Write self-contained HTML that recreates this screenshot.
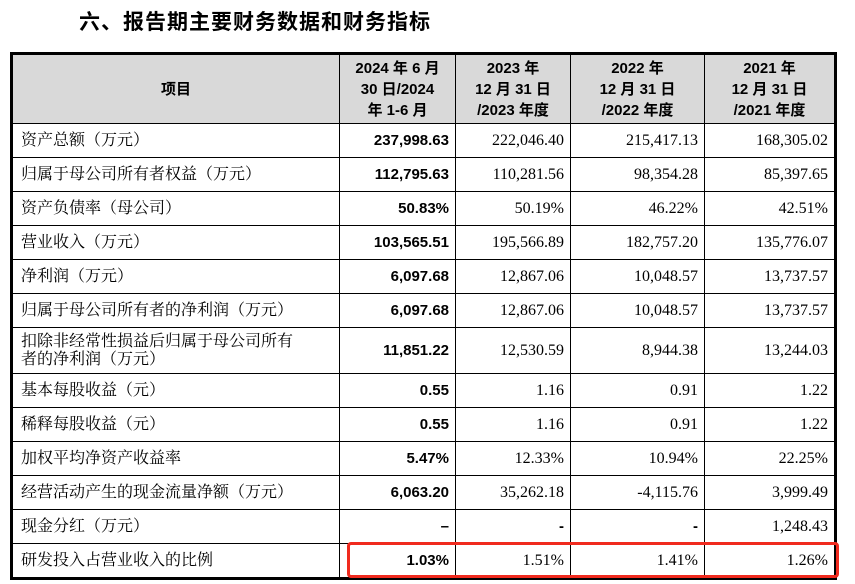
<!DOCTYPE html>
<html><head><meta charset="utf-8"><style>
body{margin:0;width:855px;height:584px;background:#fff;position:relative;overflow:hidden;font-family:"Liberation Serif","Noto Serif CJK SC",serif;color:#000}
#title{position:absolute;left:79px;top:6px;font:bold 21px "Liberation Sans","Noto Sans CJK SC",sans-serif;letter-spacing:1px}
table{position:absolute;left:10px;top:52px;border-collapse:collapse;border:3px solid #000}
td{border:1px solid #000;font-size:16px;padding:0 6px;height:33px;text-align:right;line-height:18px}
td.l{text-align:left;font-family:"Liberation Serif","Noto Serif CJK SC",serif;padding-left:8px;font-size:16px}
td.b{font-family:"Liberation Sans","Noto Sans CJK SC",sans-serif;font-weight:bold;font-size:15px}
tr.h td{background:#d9d9d9;height:68px;text-align:center;font-weight:bold;font-family:"Liberation Sans","Noto Sans CJK SC",sans-serif;line-height:21px;font-size:15px}
#red{position:absolute;left:347px;top:542px;width:486px;height:30px;border:3px solid #f02a1e;border-radius:4px}
</style></head><body>
<div id="title">六、报告期主要财务数据和财务指标</div>
<table>
<colgroup><col style="width:328px"><col style="width:116px"><col style="width:115px"><col style="width:134px"><col style="width:131px"></colgroup>
<tr class="h"><td>项目</td><td>2024 年 6 月<br>30 日/2024<br>年 1-6 月</td><td>2023 年<br>12 月 31 日<br>/2023 年度</td><td>2022 年<br>12 月 31 日<br>/2022 年度</td><td>2021 年<br>12 月 31 日<br>/2021 年度</td></tr>
<tr><td class="l">资产总额（万元）</td><td class="b">237,998.63</td><td>222,046.40</td><td>215,417.13</td><td>168,305.02</td></tr>
<tr><td class="l">归属于母公司所有者权益（万元）</td><td class="b">112,795.63</td><td>110,281.56</td><td>98,354.28</td><td>85,397.65</td></tr>
<tr><td class="l">资产负债率（母公司）</td><td class="b">50.83%</td><td>50.19%</td><td>46.22%</td><td>42.51%</td></tr>
<tr><td class="l">营业收入（万元）</td><td class="b">103,565.51</td><td>195,566.89</td><td>182,757.20</td><td>135,776.07</td></tr>
<tr><td class="l">净利润（万元）</td><td class="b">6,097.68</td><td>12,867.06</td><td>10,048.57</td><td>13,737.57</td></tr>
<tr><td class="l">归属于母公司所有者的净利润（万元）</td><td class="b">6,097.68</td><td>12,867.06</td><td>10,048.57</td><td>13,737.57</td></tr>
<tr><td class="l" style="height:45px">扣除非经常性损益后归属于母公司所有<br>者的净利润（万元）</td><td class="b">11,851.22</td><td>12,530.59</td><td>8,944.38</td><td>13,244.03</td></tr>
<tr><td class="l">基本每股收益（元）</td><td class="b">0.55</td><td>1.16</td><td>0.91</td><td>1.22</td></tr>
<tr><td class="l">稀释每股收益（元）</td><td class="b">0.55</td><td>1.16</td><td>0.91</td><td>1.22</td></tr>
<tr><td class="l">加权平均净资产收益率</td><td class="b">5.47%</td><td>12.33%</td><td>10.94%</td><td>22.25%</td></tr>
<tr><td class="l">经营活动产生的现金流量净额（万元）</td><td class="b">6,063.20</td><td>35,262.18</td><td>-4,115.76</td><td>3,999.49</td></tr>
<tr><td class="l">现金分红（万元）</td><td class="b">–</td><td class="b">-</td><td class="b">-</td><td>1,248.43</td></tr>
<tr><td class="l">研发投入占营业收入的比例</td><td class="b">1.03%</td><td>1.51%</td><td>1.41%</td><td>1.26%</td></tr>
</table>
<div id="red"></div>
</body></html>
